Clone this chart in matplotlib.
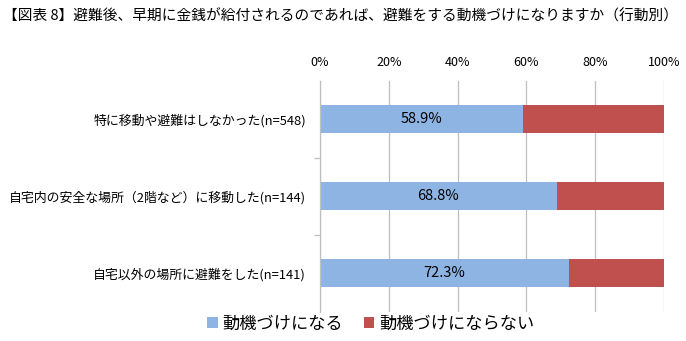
import matplotlib
matplotlib.use("Agg")
import matplotlib.pyplot as plt
import numpy as np

plt.rcParams['font.family'] = ['Noto Sans CJK JP', 'DejaVu Sans']

title = "【図表 8】避難後、早期に金銭が給付されるのであれば、避難をする動機づけになりますか（行動別）"
categories = [
    "特に移動や避難はしなかった(n=548)",
    "自宅内の安全な場所（2階など）に移動した(n=144)",
    "自宅以外の場所に避難をした(n=141)",
]
motivated = [58.9, 68.8, 72.3]
not_motivated = [41.1, 31.2, 27.7]
series_names = ["動機づけになる", "動機づけにならない"]
colors = ["#8EB4E3", "#C0504D"]

fig = plt.figure(figsize=(6.86, 3.41), dpi=100)
ax = fig.add_axes([320 / 686, 1 - 311.5 / 341, 344 / 686, 231 / 341])

y = np.arange(len(categories))
ax.barh(y, motivated, height=0.375, color=colors[0], label=series_names[0], zorder=2)
ax.barh(y, not_motivated, left=motivated, height=0.375, color=colors[1],
        label=series_names[1], zorder=2)

for yi, v in zip(y, motivated):
    ax.text(v / 2, yi, f"{v}%", ha="center", va="center", fontsize=10.5, color="#000000")

ax.set_xlim(0, 100)
ax.set_ylim(len(categories) - 0.5, -0.5)
ax.set_xticks(np.arange(0, 101, 20))
ax.set_xticklabels([f"{t}%" for t in range(0, 101, 20)], fontsize=9)
ax.xaxis.tick_top()
ax.tick_params(axis="x", length=0, pad=8)
ax.grid(axis="x", color="#BFBFBF", linewidth=0.9, zorder=0)

ax.set_yticks(y)
ax.set_yticklabels(categories, fontsize=9.3)
ax.set_yticks([0.5, 1.5], minor=True)
ax.tick_params(axis="y", which="major", length=0, pad=10)
ax.tick_params(axis="y", which="minor", length=4, color="#BFBFBF", width=0.9)

for side in ["top", "right", "bottom"]:
    ax.spines[side].set_visible(False)
ax.spines["left"].set_color("#BFBFBF")
ax.spines["left"].set_linewidth(0.9)

fig.text(3 / 686, 1 - 16 / 341, title, fontsize=10.6, va="center", ha="left")

fig.legend(loc="center", bbox_to_anchor=(371 / 686, 1 - 324 / 341), ncol=2,
           frameon=False, fontsize=12.4, handlelength=0.6, handleheight=0.6,
           handletextpad=0.3, columnspacing=1.2, borderpad=0)

fig.savefig("out.png", dpi=100)
